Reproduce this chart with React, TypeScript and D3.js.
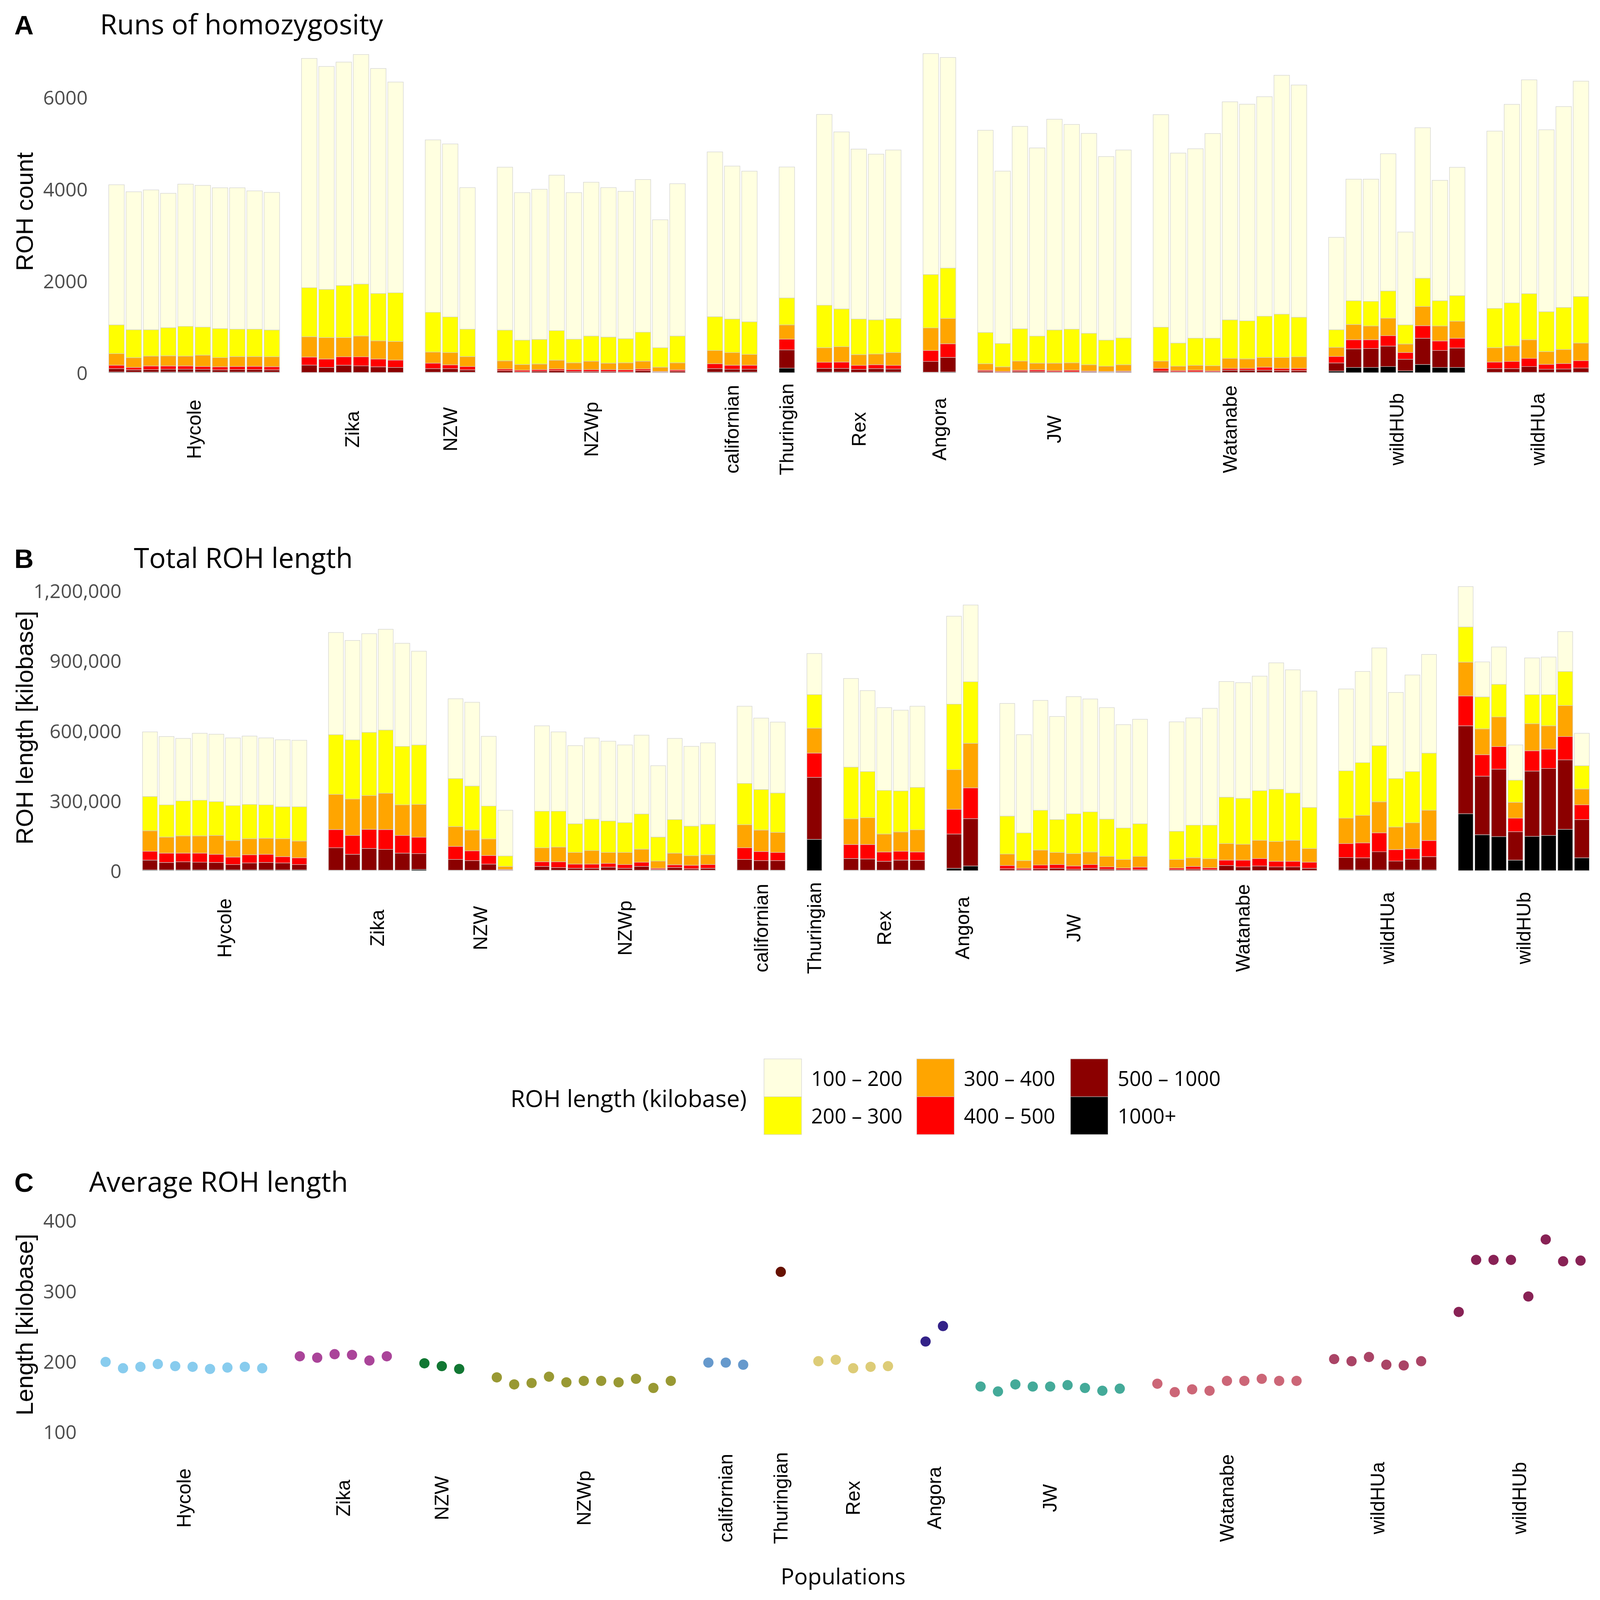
import React from 'react';
import * as d3 from 'd3';

// page size and the scale from the 1560-wide layout grid to real pixels
const W = 4335;
const H = 4350;
const k = W / 1560;

const SANS = "'Open Sans', 'Noto Sans', sans-serif";
const ARIAL = "'Liberation Sans', Arial, sans-serif";

const classLabels = ['100 – 200', '200 – 300', '300 – 400', '400 – 500', '500 – 1000', '1000+'];
const classColors = ['#FFFFE0', '#FFFF00', '#FFA500', '#FF0000', '#8B0000', '#000000'];

// ---- panel A: ROH count per individual ----
const popsA = ['Hycole', 'Zika', 'NZW', 'NZWp', 'californian', 'Thuringian', 'Rex', 'Angora', 'JW', 'Watanabe', 'wildHUb', 'wildHUa'];
const sizesA = [10, 6, 3, 11, 3, 1, 5, 2, 9, 9, 8, 6];

const countA_100_200 = [
  3052, 3005, 3045, 2927, 3097, 3087, 3066, 3079, 3012, 2997,
  4994, 4856, 4866, 4999, 4899, 4590,
  3755, 3768, 3082,
  3549, 3213, 3270, 3386, 3192, 3349, 3254, 3209, 3325, 2786, 3317,
  3589, 3331, 3281,
  2852,
  4156, 3855, 3701, 3610, 3671,
  4812, 4586,
  4404, 3753, 4409, 4098, 4590, 4459, 4354, 3998, 4093,
  4629, 4138, 4125, 4457, 4750, 4719, 4781, 5203, 5058,
  2013, 2648, 2661, 2989, 2022, 3277, 2623, 2794,
  3862, 4322, 4657, 3962, 4375, 4690,
];
const countA_200_300 = [
  627, 608, 574, 613, 648, 611, 632, 597, 597, 582,
  1068, 1049, 1134, 1132, 1033, 1060,
  866, 776, 597,
  669, 531, 536, 645, 515, 549, 569, 526, 632, 424, 584,
  736, 731, 710,
  587,
  925, 823, 776, 744, 741,
  1163, 1097,
  682, 510, 704, 590, 723, 733, 685, 568, 584,
  739, 504, 593, 601, 839, 829, 898, 943, 863,
  383, 518, 537, 593, 417, 616, 550, 558,
  856, 940, 1004, 869, 916, 1015,
];
const countA_300_400 = [
  252, 213, 215, 221, 215, 247, 202, 216, 213, 218,
  443, 468, 420, 454, 396, 406,
  242, 268, 218,
  178, 125, 123, 191, 149, 184, 141, 154, 170, 93, 154,
  289, 276, 236,
  311,
  318, 335, 234, 233, 279,
  492, 553,
  141, 100, 199, 146, 162, 162, 138, 114, 138,
  159, 96, 106, 111, 218, 207, 212, 239, 252,
  199, 332, 300, 382, 186, 419, 326, 372,
  313, 338, 406, 278, 306, 385,
];
const countA_400_500 = [
  74, 53, 80, 72, 72, 63, 66, 69, 72, 69,
  175, 183, 183, 196, 170, 160,
  119, 82, 72,
  35, 34, 34, 35, 39, 39, 39, 42, 35, 14, 29,
  106, 88, 88,
  233,
  133, 138, 87, 85, 79,
  239, 297,
  26, 19, 26, 34, 26, 34, 16, 14, 16,
  58, 26, 34, 21, 40, 40, 67, 48, 48,
  141, 199, 191, 226, 146, 274, 208, 212,
  143, 156, 178, 107, 119, 159,
];
const countA_500_1000 = [
  73, 49, 52, 59, 59, 57, 49, 52, 52, 49,
  160, 109, 157, 144, 122, 109,
  78, 78, 51,
  43, 17, 30, 43, 25, 25, 25, 17, 43, 11, 30,
  75, 61, 61,
  399,
  80, 80, 64, 75, 67,
  234, 317,
  24, 5, 24, 24, 16, 16, 16, 10, 16,
  30, 14, 14, 14, 48, 48, 48, 40, 40,
  177, 404, 412, 446, 252, 571, 369, 423,
  80, 80, 125, 66, 72, 93,
];
const countA_1000 = [
  15, 12, 14, 15, 15, 15, 12, 14, 14, 12,
  5, 5, 5, 5, 5, 5,
  10, 10, 10,
  2, 2, 2, 2, 2, 2, 2, 2, 2, 2, 2,
  13, 13, 13,
  98,
  13, 13, 8, 13, 13,
  10, 15,
  3, 3, 3, 3, 3, 3, 3, 3, 3,
  5, 5, 5, 5, 5, 5, 5, 5, 5,
  35, 114, 114, 133, 40, 178, 114, 114,
  8, 8, 8, 8, 8, 8,
];
const ticksA = [0, 2000, 4000, 6000];

// ---- panel B: total ROH length, thousand kilobase ----
const popsB = ['Hycole', 'Zika', 'NZW', 'NZWp', 'californian', 'Thuringian', 'Rex', 'Angora', 'JW', 'Watanabe', 'wildHUa', 'wildHUb'];
const sizesB = [10, 6, 4, 11, 3, 1, 5, 2, 9, 9, 6, 8];

const lenB_100_200 = [
  277, 293, 268, 287, 289, 290, 293, 287, 287, 285,
  438, 426, 423, 432, 442, 402,
  342, 359, 299, 196,
  366, 340, 335, 348, 342, 333, 338, 306, 348, 342, 349,
  331, 306, 304,
  176,
  380, 347, 355, 346, 348,
  377, 329,
  483, 421, 471, 442, 502, 484, 478, 443, 448,
  469, 460, 501, 496, 496, 491, 542, 528, 499,
  351, 391, 419, 369, 414, 423,
  173, 150, 160, 151, 157, 161, 171, 139,
];
const lenB_200_300 = [
  147, 138, 150, 153, 145, 150, 147, 143, 137, 147,
  256, 254, 271, 271, 251, 255,
  206, 189, 141, 45,
  157, 154, 123, 135, 135, 128, 151, 103, 144, 127, 131,
  177, 174, 169,
  144,
  222, 198, 187, 176, 182,
  281, 264,
  163, 119, 171, 141, 171, 172, 160, 135, 140,
  121, 140, 144, 199, 197, 213, 224, 203, 176,
  203, 226, 241, 208, 220, 245,
  151, 137, 140, 95, 125, 134, 146, 100,
];
const lenB_300_400 = [
  88, 69, 74, 74, 81, 71, 69, 69, 77, 72,
  151, 156, 145, 156, 131, 141,
  85, 89, 71, 13,
  60, 63, 50, 58, 47, 52, 56, 31, 50, 41, 42,
  99, 92, 86,
  107,
  110, 115, 77, 83, 95,
  170, 191,
  49, 33, 64, 52, 53, 54, 45, 37, 46,
  37, 37, 39, 71, 68, 78, 85, 90, 59,
  109, 118, 133, 97, 111, 130,
  145, 111, 127, 68, 116, 100, 133, 68,
];
const lenB_400_500 = [
  38, 40, 37, 39, 35, 32, 35, 35, 27, 29,
  78, 81, 82, 85, 76, 70,
  56, 42, 37, 3,
  20, 25, 18, 18, 16, 16, 18, 5, 12, 15, 16,
  50, 39, 35,
  104,
  60, 62, 40, 38, 36,
  106, 132,
  14, 6, 16, 16, 14, 16, 10, 7, 11,
  7, 12, 8, 23, 29, 32, 24, 24, 26,
  60, 64, 81, 49, 45, 69,
  128, 92, 97, 58, 87, 83, 100, 63,
];
const lenB_500_1000 = [
  42, 32, 35, 33, 32, 23, 30, 32, 30, 23,
  96, 68, 93, 89, 73, 68,
  46, 41, 26, 1,
  16, 11, 8, 8, 13, 8, 16, 3, 11, 6, 8,
  46, 41, 41,
  266,
  50, 48, 38, 43, 42,
  147, 203,
  7, 3, 7, 9, 5, 9, 5, 3, 3,
  3, 5, 3, 21, 15, 19, 15, 15, 9,
  53, 52, 78, 38, 46, 57,
  377, 251, 289, 122, 280, 287, 298, 164,
];
const lenB_1000 = [
  3, 3, 3, 3, 3, 3, 3, 3, 3, 3,
  2, 2, 2, 2, 2, 5,
  2, 2, 2, 1,
  2, 2, 2, 2, 2, 2, 2, 2, 2, 2, 2,
  2, 2, 2,
  134,
  2, 2, 2, 2, 2,
  10, 20,
  1, 1, 1, 1, 1, 1, 1, 1, 1,
  1, 1, 1, 1, 1, 1, 1, 1, 1,
  3, 3, 3, 3, 3, 3,
  244, 154, 146, 45, 147, 151, 177, 55,
];
const ticksB = [0, 300000, 600000, 900000, 1200000];

// ---- panel C: average ROH length (kilobase) ----
const popsC = popsB;
const sizesC = [10, 6, 3, 11, 3, 1, 5, 2, 9, 9, 6, 8];
const avgC = [
  199, 190, 192, 196, 193, 192, 189, 191, 192, 190,
  207, 205, 210, 209, 201, 207,
  197, 193, 189,
  177, 167, 169, 178, 170, 172, 172, 170, 175, 162, 172,
  198, 198, 195,
  327,
  200, 202, 190, 192, 193,
  228, 250,
  164, 157, 167, 164, 164, 166, 162, 158, 161,
  168, 156, 160, 158, 172, 172, 175, 172, 172,
  203, 200, 206, 195, 194, 200,
  270, 344, 344, 344, 292, 373, 342, 343,
];
const ticksC = [100, 200, 300, 400];
const popColors: Record<string, string> = {
  Hycole: '#88CCEE', Zika: '#AA4499', NZW: '#117733', NZWp: '#999933',
  californian: '#6699CC', Thuringian: '#661100', Rex: '#DDCC77', Angora: '#332288',
  JW: '#44AA99', Watanabe: '#CC6677', wildHUa: '#AA4466', wildHUb: '#882255',
};

const GAP = 16.3;

// one linear scale per population facet, ggplot-like discrete expansion
function facetScales(sizes: number[], left: number, right: number) {
  const step = (right - left - GAP * (sizes.length - 1)) / (d3.sum(sizes) + 0.2 * sizes.length);
  let x0 = left;
  return sizes.map((n) => {
    const w = (n + 0.2) * step;
    const sc = d3.scaleLinear().domain([0.4, n + 0.6]).range([x0, x0 + w]);
    x0 += w + GAP;
    return sc;
  });
}

function bars(sizes: number[]) {
  const out: { g: number; i: number; j: number }[] = [];
  let j = 0;
  sizes.forEach((n, g) => {
    for (let i = 1; i <= n; i++) out.push({ g, i, j: j++ });
  });
  return out;
}

const YTitle = ({ cy, text }: { cy: number; text: string }) => (
  <text transform={`translate(32,${cy}) rotate(-90)`} textAnchor="middle"
    fontFamily={ARIAL} fontSize={23.5} fill="#000">{text}</text>
);

const Heading = ({ letter, title, x, y }: { letter: string; title: string; x: number; y: number }) => (
  <g>
    <text x={14} y={y} fontFamily={ARIAL} fontWeight="bold" fontSize={26}>{letter}</text>
    <text x={x} y={y} fontFamily={SANS} fontSize={27}>{title}</text>
  </g>
);

const GroupLabels = ({ pops, scales, sizes, cy }: any) => (
  <g>
    {pops.map((p: string, g: number) => {
      const cx = scales[g]((1 + sizes[g]) / 2);
      return (
        <text key={p} transform={`translate(${cx},${cy}) rotate(-90)`} textAnchor="middle"
          dominantBaseline="central" fontFamily={ARIAL} fontSize={19}>{p}</text>
      );
    })}
  </g>
);

const YTicks = ({ ticks, y, x, fmt }: any) => (
  <g>
    {ticks.map((t: number) => (
      <text key={t} x={x} y={y(t)} textAnchor="end" dominantBaseline="central"
        fontFamily={SANS} fontSize={19} fill="#4D4D4D">{fmt(t)}</text>
    ))}
  </g>
);

function StackedPanel({ pops, sizes, series, left, right, y, labelY }: any) {
  const scales = facetScales(sizes, left, right);
  const list = bars(sizes);
  // longest class at the bottom of the stack, 100-200 on top
  const keys = series.map((_: any, c: number) => String(c)).reverse();
  const rows = list.map((b) => {
    const r: any = {};
    series.forEach((s: number[], c: number) => { r[String(c)] = s[b.j]; });
    return r;
  });
  const stacked = d3.stack<any>().keys(keys)(rows);
  return (
    <g>
      {stacked.map((layer) => (
        <g key={layer.key} fill={classColors[+layer.key]}>
          {layer.map((d, j) => {
            const b = list[j];
            const sc = scales[b.g];
            const x0 = sc(b.i - 0.45);
            const x1 = sc(b.i + 0.45);
            return (
              <rect key={j} x={x0} width={x1 - x0} y={y(d[1])} height={Math.max(0, y(d[0]) - y(d[1]))}
                stroke="#D0D0D0" strokeWidth={0.45} />
            );
          })}
        </g>
      ))}
      <GroupLabels pops={pops} scales={scales} sizes={sizes} cy={labelY} />
    </g>
  );
}

function DotPanel({ pops, sizes, values, left, right, y, labelY }: any) {
  const scales = facetScales(sizes, left, right);
  const list = bars(sizes);
  return (
    <g>
      {list.map((b) => (
        <circle key={b.j} cx={scales[b.g](b.i)} cy={y(values[b.j])} r={5} fill={popColors[pops[b.g]]} />
      ))}
      <GroupLabels pops={pops} scales={scales} sizes={sizes} cy={labelY} />
    </g>
  );
}

const Legend = () => {
  const keyX = [744.9, 893.8, 1043.7];
  const rowY = [1036, 1073];
  return (
    <g>
      <text x={497.7} y={1083} fontFamily={SANS} fontSize={23}>ROH length (kilobase)</text>
      {classLabels.map((lab, c) => {
        const col = Math.floor(c / 2);
        const row = c % 2;
        return (
          <g key={lab}>
            <rect x={keyX[col]} y={rowY[row]} width={36.6} height={37} fill={classColors[c]}
              stroke="#D0D0D0" strokeWidth={0.45} />
            <text x={keyX[col] + 46} y={rowY[row] + 18.5} dominantBaseline="central"
              fontFamily={SANS} fontSize={20}>{lab}</text>
          </g>
        );
      })}
    </g>
  );
};

export default function App() {
  const seriesA = [countA_100_200, countA_200_300, countA_300_400, countA_400_500, countA_500_1000, countA_1000];
  const seriesB = [lenB_100_200, lenB_200_300, lenB_300_400, lenB_400_500, lenB_500_1000, lenB_1000]
    .map((s) => s.map((v) => v * 1000));

  const yA = d3.scaleLinear().domain([0, 6000]).range([364.6, 95.1]);
  const yB = d3.scaleLinear().domain([0, 1200000]).range([851.8, 578]);
  const yC = d3.scaleLinear().domain([100, 400]).range([1400.6, 1194.1]);

  const A = { left: 103.5, right: 1551.5 };
  const B = { left: 136.5, right: 1552 };
  const C = { left: 92.8, right: 1551.2 };

  return (
    <svg viewBox={`0 0 ${W} ${H}`} preserveAspectRatio="none"
      style={{ position: 'fixed', left: 0, top: 0, width: '100%', height: '100%', background: '#fff' }}>
      <rect width={W} height={H} fill="#fff" />
      <g transform={`scale(${k})`}>
        {/* A */}
        <Heading letter="A" title="Runs of homozygosity" x={A.left - 6} y={33.5} />
        <YTitle cy={207} text="ROH count" />
        <YTicks ticks={ticksA} y={yA} x={A.left - 18} fmt={d3.format('d')} />
        <StackedPanel pops={popsA} sizes={sizesA} series={seriesA} left={A.left} right={A.right} y={yA} labelY={420} />

        {/* B */}
        <Heading letter="B" title="Total ROH length" x={B.left - 6} y={555.8} />
        <YTitle cy={712} text="ROH length [kilobase]" />
        <YTicks ticks={ticksB} y={yB} x={B.left - 18} fmt={d3.format(',')} />
        <StackedPanel pops={popsB} sizes={sizesB} series={seriesB} left={B.left} right={B.right} y={yB} labelY={908} />

        <Legend />

        {/* C */}
        <Heading letter="C" title="Average ROH length" x={C.left - 6} y={1166} />
        <YTitle cy={1296} text="Length [kilobase]" />
        <YTicks ticks={ticksC} y={yC} x={C.left - 18} fmt={d3.format('d')} />
        <DotPanel pops={popsC} sizes={sizesC} values={avgC} left={C.left} right={C.right} y={yC} labelY={1465.7} />
        <text x={(C.left + C.right) / 2} y={1550} textAnchor="middle" fontFamily={SANS} fontSize={22}>Populations</text>
      </g>
    </svg>
  );
}
